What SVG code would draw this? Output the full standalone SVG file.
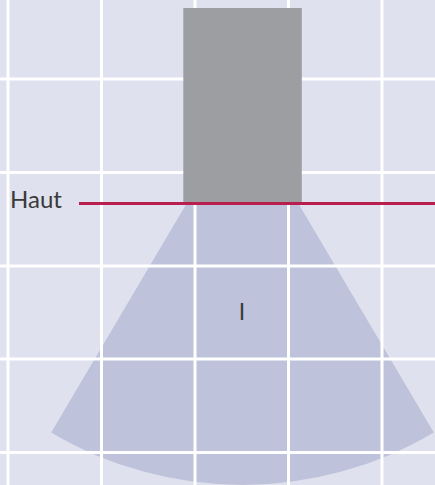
<svg xmlns="http://www.w3.org/2000/svg" width="435" height="485" viewBox="0 0 435 485">
<style>
.grid line{stroke:#ffffff;stroke-width:3}
.lbl{font-family:Lato,"Liberation Sans","DejaVu Sans",sans-serif;font-weight:400;font-size:23px;fill:#3a3a3a}
</style>
<rect width="435" height="485" fill="#dfe1ee"/>
<g id="fan">
<path d="M242.5,109 L51.2,432.5 A375,375 0 0 0 433.8,432.5 Z" fill="#bec3db"/>
</g>
<g class="grid" id="grid">
<line x1="8" y1="0" x2="8" y2="485"/>
<line x1="101.5" y1="0" x2="101.5" y2="485"/>
<line x1="195" y1="0" x2="195" y2="485"/>
<line x1="288.5" y1="0" x2="288.5" y2="485"/>
<line x1="382" y1="0" x2="382" y2="485"/>
<line x1="0" y1="79" x2="435" y2="79"/>
<line x1="0" y1="172.5" x2="435" y2="172.5"/>
<line x1="0" y1="266" x2="435" y2="266"/>
<line x1="0" y1="359" x2="435" y2="359"/>
<line x1="0" y1="452.5" x2="435" y2="452.5"/>
</g>
<g id="block">
<rect x="183.3" y="8" width="118.5" height="195" fill="#9d9ea2"/>
</g>
<g id="connectors">
<line x1="79" y1="203.5" x2="435" y2="203.5" stroke="#b81f4f" stroke-width="3"/>
</g>
<g id="label-haut">
<text class="lbl" x="10" y="207.7" textLength="52" lengthAdjust="spacingAndGlyphs">Haut</text>
</g>
<g id="label-i">
<text class="lbl" x="242" y="320" text-anchor="middle">I</text>
</g>
</svg>
